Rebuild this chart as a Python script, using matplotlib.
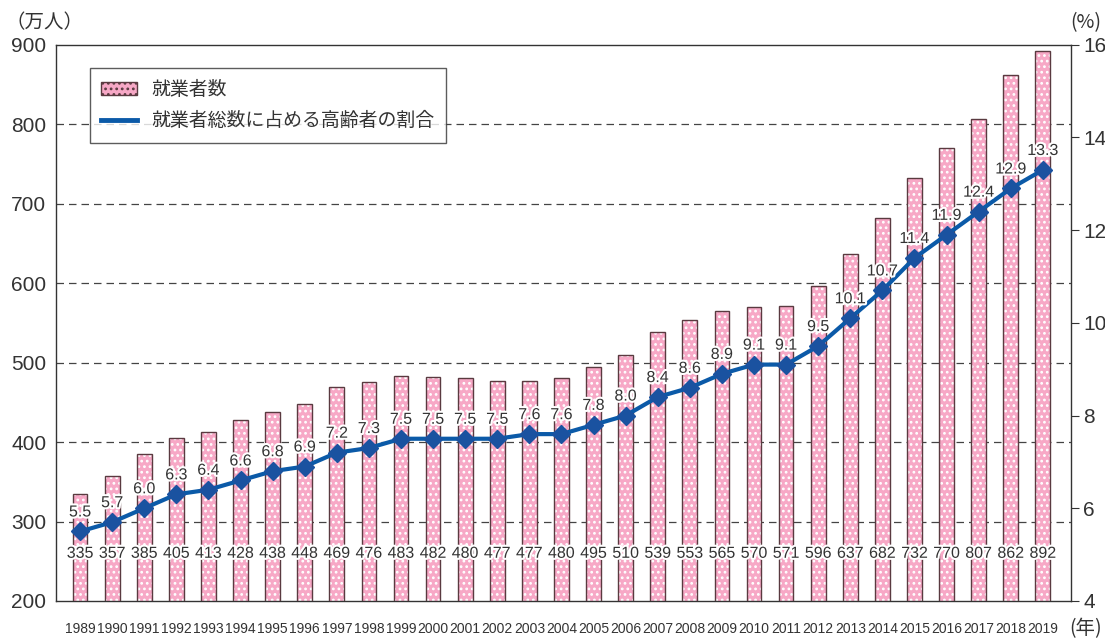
import matplotlib
matplotlib.use('Agg')
import matplotlib.pyplot as plt
import matplotlib.patheffects as pe
from matplotlib.lines import Line2D
import numpy as np

plt.rcParams['font.family'] = ['Noto Sans CJK JP', 'DejaVu Sans']

years = [str(y) for y in range(1989, 2020)]
workers = [335, 357, 385, 405, 413, 428, 438, 448, 469, 476, 483, 482, 480, 477, 477,
           480, 495, 510, 539, 553, 565, 570, 571, 596, 637, 682, 732, 770, 807, 862, 892]
ratio = [5.5, 5.7, 6.0, 6.3, 6.4, 6.6, 6.8, 6.9, 7.2, 7.3, 7.5, 7.5, 7.5, 7.5, 7.6,
         7.6, 7.8, 8.0, 8.4, 8.6, 8.9, 9.1, 9.1, 9.5, 10.1, 10.7, 11.4, 11.9, 12.4, 12.9, 13.3]
left_ticks = [200, 300, 400, 500, 600, 700, 800, 900]
right_ticks = [4, 6, 8, 10, 12, 14, 16]

num_font = ['Liberation Sans', 'DejaVu Sans']
halo = [pe.withStroke(linewidth=3, foreground='white')]
txt_color = '#333333'

fig = plt.figure(figsize=(11.05, 6.4), dpi=100)
ax = fig.add_axes([0.0507, 0.061, 0.9183, 0.869])
x = np.arange(len(years))

# pink bars with white dot pattern, then outline on top
plt.rcParams['hatch.linewidth'] = 1.2
ax.bar(x, workers, width=0.46, color='#f7a8c6', edgecolor='white',
       hatch='...', linewidth=0, zorder=2)
ax.bar(x, workers, width=0.46, fill=False, edgecolor='#5a3a40',
       linewidth=1.0, zorder=3)
legend_bar = plt.Rectangle((0, 0), 1, 1, facecolor='#f7a8c6', edgecolor='#5a3a40',
                           hatch='...', linewidth=1.0)

ax.set_ylim(200, 900)
ax.set_xlim(-0.75, 30.87)
ax.set_yticks(left_ticks)
ax.set_yticklabels([str(v) for v in left_ticks], fontsize=15, family=num_font, color=txt_color)
ax.tick_params(axis='y', length=0, pad=7)
ax.set_xticks(x)
ax.set_xticklabels(years, fontsize=10, family=num_font, color=txt_color)
ax.tick_params(axis='x', length=0, pad=15)
for v in left_ticks[1:-1]:
    ax.axhline(v, color='#444444', linestyle=(0, (6, 4)), linewidth=0.9, zorder=1)
for s in ax.spines.values():
    s.set_color('#333333')
    s.set_linewidth(1.0)

for i, v in enumerate(workers):
    ax.text(i, 260, str(v), ha='center', va='center', fontsize=11.5, family=num_font,
            color=txt_color, zorder=6, path_effects=halo)

ax2 = ax.twinx()
ax2.set_ylim(4, 16)
ax2.set_yticks(right_ticks)
ax2.set_yticklabels([str(v) for v in right_ticks], fontsize=15, family=num_font, color=txt_color)
ax2.tick_params(axis='y', length=6, direction='out', color='#333333', pad=3)
for s in ax2.spines.values():
    s.set_visible(False)
ax2.plot(x, ratio, color='#0b5aa8', linewidth=3, marker='D', markersize=9,
         markerfacecolor='#1a52a0', markeredgecolor='#1a52a0', zorder=5)
for i, v in enumerate(ratio):
    ax2.text(i, v + 0.42, f'{v:.1f}', ha='center', va='center', fontsize=11.5, family=num_font,
             color=txt_color, zorder=6, path_effects=halo)

legend_line = Line2D([], [], color='#0b5aa8', linewidth=3.5)
leg = ax2.legend([legend_bar, legend_line], ['就業者数', '就業者総数に占める高齢者の割合'],
                 loc='upper left', bbox_to_anchor=(0.0335, 0.959), borderaxespad=0,
                 fontsize=13.6, frameon=True, fancybox=False, edgecolor='#333333',
                 handlelength=1.9, handleheight=0.7, borderpad=0.6, labelspacing=0.55,
                 handletextpad=0.75, labelcolor=txt_color)
leg.get_frame().set_linewidth(1.0)

fig.text(0.005, 0.965, '（万人）', fontsize=14, ha='left', va='center', color=txt_color)
fig.text(0.997, 0.965, '(%)', fontsize=14, ha='right', va='center', color=txt_color)
fig.text(0.997, 0.018, '(年)', fontsize=14, ha='right', va='center', color=txt_color)

fig.savefig('out.png', dpi=100)
